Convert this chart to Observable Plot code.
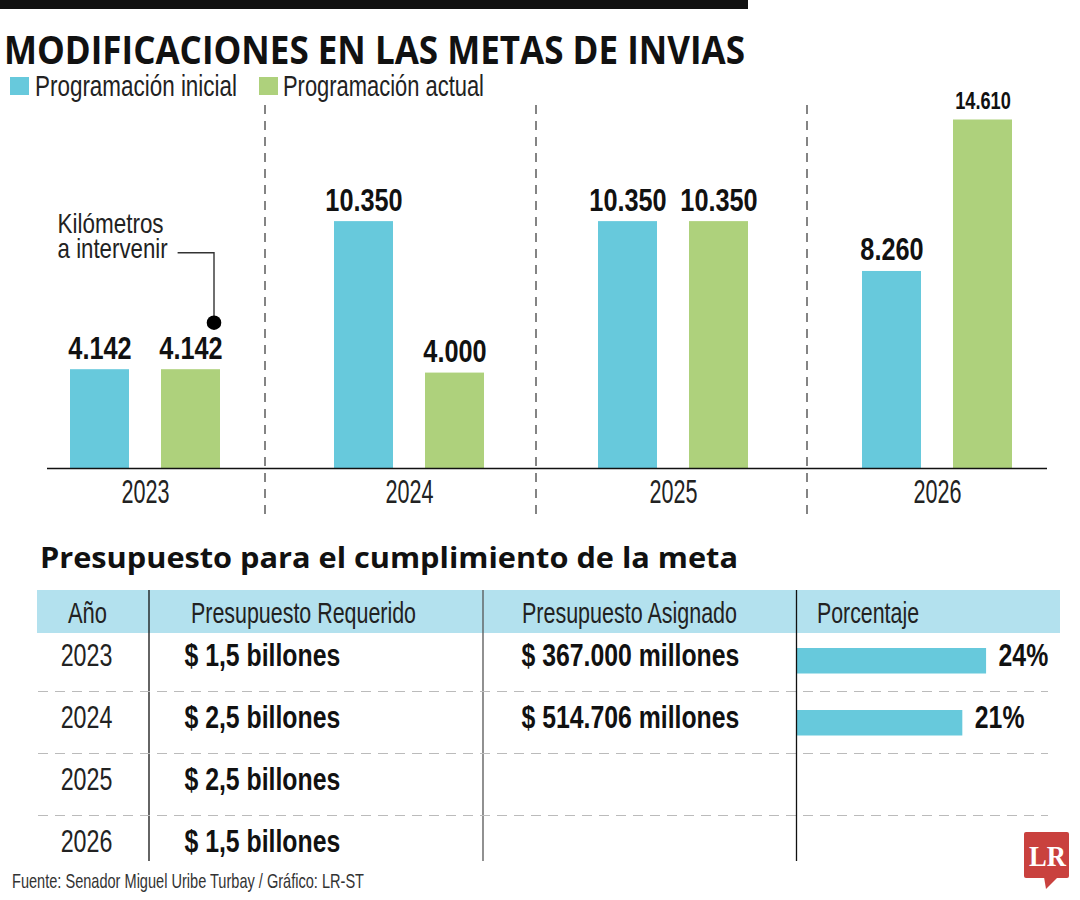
<!DOCTYPE html>
<html><head><meta charset="utf-8">
<script src="https://cdn.jsdelivr.net/npm/d3@7"></script>
<script src="https://cdn.jsdelivr.net/npm/@observablehq/plot@0.6"></script>
<style>
body{margin:0;background:#fff;}
#root{position:relative;width:1080px;height:900px;overflow:hidden;font-family:"Liberation Sans",Arial,sans-serif;}
#root > svg{position:absolute;left:0;margin:0;max-width:none;}
</style></head><body><div id="root"></div>
<script>
// ---- data ----
const years = [2023, 2024, 2025, 2026];
const series = ["Programación inicial", "Programación actual"];
const inicial = [4142, 10350, 10350, 8260];
const actual = [4142, 4000, 10350, 14610];
const colors = ["#67C9DC", "#AED17C"];
const required = ["$ 1,5 billones", "$ 2,5 billones", "$ 2,5 billones", "$ 1,5 billones"];
const assigned = ["$ 367.000 millones", "$ 514.706 millones", null, null];
const pct = [24, 21, null, null];
const columns = ["Año", "Presupuesto Requerido", "Presupuesto Asignado", "Porcentaje"];
const title = "MODIFICACIONES EN LAS METAS DE INVIAS";
const subtitle = "Presupuesto para el cumplimiento de la meta";
const note = ["Kilómetros", "a intervenir"];
const source = "Fuente: Senador Miguel Uribe Turbay / Gráfico: LR-ST";
const logo = "LR";

// ---- derived tables ----
const bars = years.flatMap((y, i) => [
  {year: y, series: series[0], value: inicial[i]},
  {year: y, series: series[1], value: actual[i]}
]);
const rows = years.map((y, i) => ({year: y, required: required[i], assigned: assigned[i], pct: pct[i]}));
const fmt = d3.formatLocale({decimal: ",", thousands: ".", grouping: [3], currency: ["$", ""]}).format(",");
const maxV = d3.max(bars, d => d.value);
const FONT = "Liberation Sans, Arial, sans-serif";

// condense Plot text horizontally without touching its position
function squeeze(svg, label, s) {
  svg.querySelectorAll(`text[aria-label="${label}"]`).forEach(t => {
    const w = t.getComputedTextLength();
    t.setAttribute("textLength", w * s);
    t.setAttribute("lengthAdjust", "spacingAndGlyphs");
  });
}

const root = d3.select("#root");
const W = 1080, H = 900;

// ---- back layer ----
const back = root.append("svg").attr("width", W).attr("height", H).style("top", "0px");
back.append("rect").attr("x", 0).attr("y", 0).attr("width", 748).attr("height", 9).attr("fill", "#111");
back.append("rect").attr("x", 37).attr("y", 590).attr("width", 1023).attr("height", 43).attr("fill", "#B3E1EE");
back.append("line").attr("x1", 149).attr("x2", 149).attr("y1", 590).attr("y2", 861).attr("stroke", "#111").attr("stroke-width", 1.3);
back.append("line").attr("x1", 483).attr("x2", 483).attr("y1", 590).attr("y2", 861).attr("stroke", "#555").attr("stroke-width", 1.3);

// ---- bar chart ----
const sep = {stroke: "#666", strokeWidth: 1.6, strokeDasharray: "9,7"};
const chart = Plot.plot({
  width: 1080, height: 425,
  marginTop: 5, marginBottom: 5, marginLeft: 11, marginRight: 10,
  style: {background: "transparent", overflow: "visible", fontFamily: FONT},
  fx: {domain: years, padding: 0, axis: null},
  x: {domain: series, paddingInner: 0.348, paddingOuter: 0.6125, axis: null},
  y: {domain: [0, maxV], range: [368, 19.5], axis: null},
  color: {domain: series, range: colors},
  marks: [
    Plot.ruleX(years.slice(1, 2), {fx: d => d, x: () => series[0], dx: -99, ...sep}),
    Plot.ruleX(years.slice(2, 3), {fx: d => d, x: () => series[0], dx: -92, ...sep}),
    Plot.ruleX(years.slice(3), {fx: d => d, x: () => series[0], dx: -85, ...sep}),
    Plot.barY(bars, {fx: "year", x: "series", y: "value", fill: "series"}),
    Plot.ruleY(years.slice(0, 1), {fx: d => d, y: () => 0, stroke: "#111", strokeWidth: 1.5, insetLeft: 34}),
    Plot.ruleY(years.slice(1, 3), {fx: d => d, y: () => 0, stroke: "#111", strokeWidth: 1.5}),
    Plot.ruleY(years.slice(3), {fx: d => d, y: () => 0, stroke: "#111", strokeWidth: 1.5, insetRight: 22}),
    Plot.text(bars, {fx: "year", x: "series", y: "value", text: d => fmt(d.value), dy: -11, lineAnchor: "bottom",
      fontWeight: "bold", fontSize: d => d.value === maxV ? 23 : 32, fill: "#111", ariaLabel: () => "value-label"}),
    Plot.text(years, {fx: d => d, y: () => 0, text: d => String(d), dy: 34, lineAnchor: "bottom",
      fontSize: 33.5, fill: "#222", ariaLabel: () => "year-label"})
  ]
});
chart.style.top = "100px";
root.node().appendChild(chart);
squeeze(chart, "value-label", 0.79);
squeeze(chart, "year-label", 0.645);

// ---- table ----
const table = Plot.plot({
  width: 1080, height: 290,
  marginTop: 10, marginBottom: 9, marginLeft: 38, marginRight: 32,
  style: {background: "transparent", overflow: "visible", fontFamily: FONT},
  x: {domain: [0, 100], range: [796, 1588], axis: null},
  y: {domain: years, range: [44.8, 294.2], padding: 0, axis: null},
  marks: [
    Plot.ruleY(years.slice(0, 3), {y: d => d, dy: 35, stroke: "#bbb", strokeWidth: 1.2, strokeDasharray: "10,7"}),
    Plot.barX(rows.filter(d => d.pct != null), {x: "pct", y: "year", fill: colors[0], insetTop: 23, insetBottom: 13.5}),
    Plot.ruleX([0], {stroke: "#111", strokeWidth: 1.3}),
    Plot.text(rows, {y: "year", text: d => String(d.year), frameAnchor: "left", dx: 48, textAnchor: "middle",
      fontSize: 31, fill: "#222", ariaLabel: () => "t-year"}),
    Plot.text(rows, {y: "year", text: "required", frameAnchor: "left", dx: 146, textAnchor: "start",
      fontSize: 31, fontWeight: "bold", fill: "#111", ariaLabel: () => "t-bold"}),
    Plot.text(rows.filter(d => d.assigned), {y: "year", text: "assigned", frameAnchor: "left", dx: 483, textAnchor: "start",
      fontSize: 31, fontWeight: "bold", fill: "#111", ariaLabel: () => "t-bold"}),
    Plot.text(rows.filter(d => d.pct != null), {x: "pct", y: "year", text: d => d.pct + "%", dx: 12, textAnchor: "start",
      fontSize: 31, fontWeight: "bold", fill: "#111", ariaLabel: () => "t-bold"})
  ]
});
table.style.top = "580px";
root.node().appendChild(table);
squeeze(table, "t-year", 0.75);
squeeze(table, "t-bold", 0.8);

// ---- front layer (titles, legend, notes) ----
const front = root.append("svg").attr("width", W).attr("height", H).style("top", "0px").style("pointer-events", "none");
function txt(s, x, y, size, len, o = {}) {
  return front.append("text").attr("x", x).attr("y", y).attr("font-size", size)
    .attr("textLength", len).attr("lengthAdjust", "spacingAndGlyphs")
    .attr("font-family", o.family || FONT).attr("font-weight", o.weight || "normal")
    .attr("fill", o.fill || "#222").attr("text-anchor", o.anchor || "start").text(s);
}
txt(title, 4, 64, 39, 741, {weight: "bold", fill: "#111", family: "Open Sans, Liberation Sans, sans-serif"});
// legend
front.append("rect").attr("x", 10).attr("y", 77).attr("width", 19).attr("height", 18).attr("fill", colors[0]);
txt(series[0], 35, 96, 29, 202);
front.append("rect").attr("x", 259).attr("y", 77).attr("width", 19).attr("height", 18).attr("fill", colors[1]);
txt(series[1], 283, 96, 29, 201);

// annotation anchored to the 2023 "actual" bar through the chart's scales
const fxS = chart.scale("fx"), xS = chart.scale("x"), yS = chart.scale("y");
const barLeft = fxS.apply(years[0]) + xS.apply(series[1]) - xS.range[0];
const barRight = barLeft + xS.bandwidth;
const barTop = 100 + yS.apply(actual[0]);
const dotX = barRight - 6, dotY = barTop - 46.5, lineY = barTop - 116.5;
front.append("path").attr("d", `M${barRight - 42.4},${lineY}H${dotX}V${dotY}`).attr("fill", "none").attr("stroke", "#333").attr("stroke-width", 1.4);
front.append("circle").attr("cx", dotX).attr("cy", dotY).attr("r", 7.3).attr("fill", "#000");
txt(note[0], barRight - 162.4, barTop - 136.5, 28, 106);
txt(note[1], barRight - 162.4, barTop - 111.5, 28, 110);

// table header + subtitle
txt(subtitle, 40, 568, 28, 698, {weight: "bold", fill: "#111", family: "Open Sans, Liberation Sans, sans-serif"});
txt(columns[0], 68, 623, 29, 39);
txt(columns[1], 191, 623, 29, 225);
txt(columns[2], 522, 623, 29, 215);
txt(columns[3], 817, 623, 29, 102);

// footer
txt(source, 12, 888, 21, 352, {fill: "#333"});
front.append("rect").attr("x", 1024).attr("y", 832).attr("width", 45).attr("height", 46).attr("rx", 2).attr("fill", "#C9413E");
front.append("path").attr("d", "M1044,877L1058,877L1046,889Z").attr("fill", "#C9413E");
txt(logo, 1029, 866, 30, 37, {weight: "bold", fill: "#fff", family: "Liberation Serif, serif"});
</script>
</body></html>
